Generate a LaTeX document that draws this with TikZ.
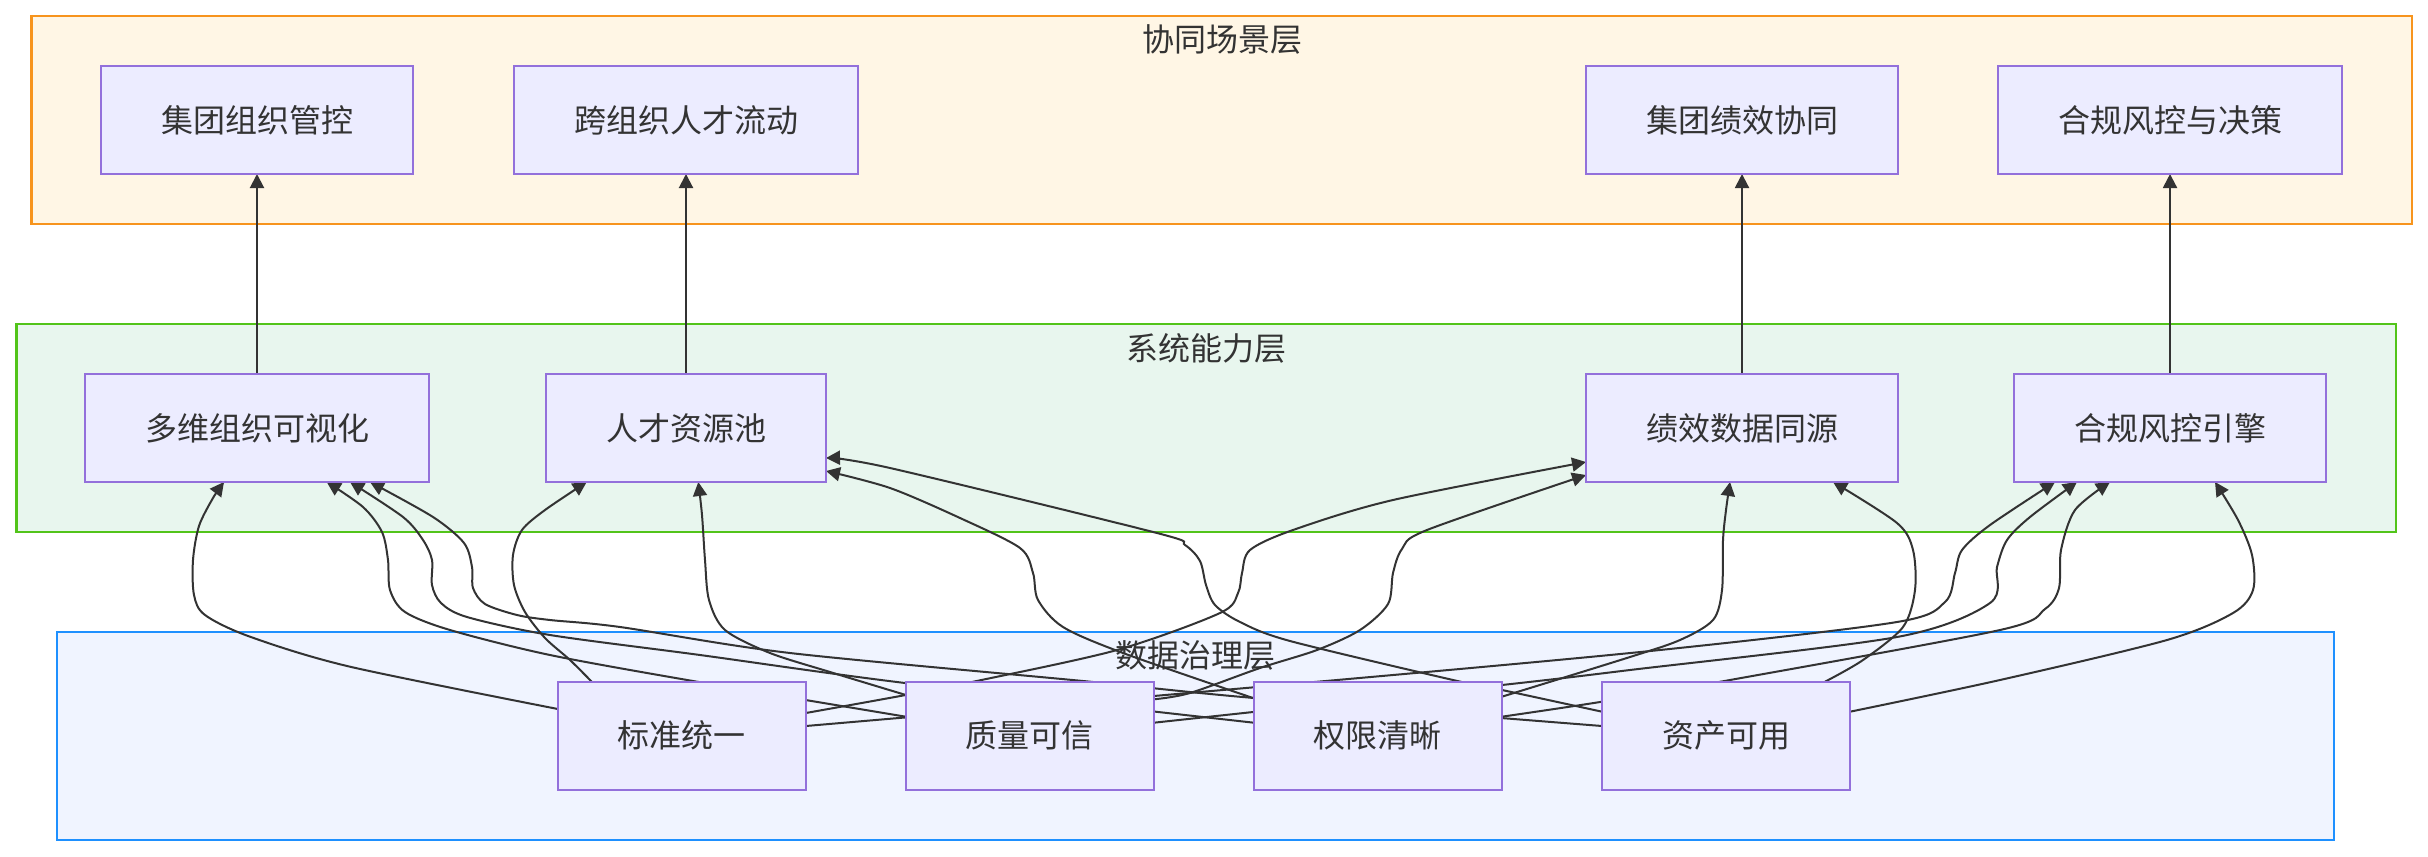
\documentclass[tikz,border=0pt]{standalone}
\usepackage{fontspec}
\newfontfamily\cjk{Noto Sans CJK SC}
\usetikzlibrary{arrows.meta,calc}
\pgfdeclarelayer{clusterlayer}
\pgfdeclarelayer{edgelayer}
\pgfsetlayers{clusterlayer,edgelayer,main}
\definecolor{txt}{HTML}{333333}
\definecolor{nodefill}{HTML}{ECECFF}
\definecolor{nodeline}{HTML}{9370DB}
\definecolor{orfill}{HTML}{FFF6E5}
\definecolor{orline}{HTML}{F7941D}
\definecolor{grfill}{HTML}{E8F6EE}
\definecolor{grline}{HTML}{52C41A}
\definecolor{blfill}{HTML}{F0F4FF}
\definecolor{blline}{HTML}{1E90FF}
\definecolor{edgecol}{HTML}{333333}
\tikzset{
  box/.style={draw=nodeline, fill=nodefill, line width=1pt, minimum height=54pt,
    inner xsep=30pt, inner ysep=0pt, outer sep=0pt,
    font=\cjk\fontsize{16pt}{19pt}\selectfont, text=txt},
  cluster/.style={line width=1.1pt, inner sep=0pt, outer sep=0pt, minimum height=104pt},
  ctitle/.style={font=\cjk\fontsize{16pt}{19pt}\selectfont, text=txt, inner sep=0pt},
  edge/.style={draw=edgecol, line width=1pt, -{Triangle[length=7pt,width=7pt]}},
}
\begin{document}
\begin{tikzpicture}[x=0.5pt,y=-0.5pt]
\useasboundingbox (0,0) rectangle (2428,856);

\begin{pgfonlayer}{clusterlayer}
  \node[cluster, draw=orline, fill=orfill, minimum width=1190.25pt] (L1) at (1221.75,120) {};
  \node[ctitle] (L1t) at (1222,39) {协同场景层};
  \node[cluster, draw=grline, fill=grfill, minimum width=1189.75pt] (L2) at (1206.25,428) {};
  \node[ctitle] (L2t) at (1206,348) {系统能力层};
  \node[cluster, draw=blline, fill=blfill, minimum width=1138.5pt] (L3) at (1195.5,736) {};
  \node[ctitle] (L3t) at (1195.5,655) {数据治理层};
\end{pgfonlayer}

% top layer
\node[box] (T1) at (257,120) {集团组织管控};
\node[box] (T2) at (686,120) {跨组织人才流动};
\node[box] (T3) at (1742,120) {集团绩效协同};
\node[box] (T4) at (2170,120) {合规风控与决策};
% middle layer
\node[box] (V1) at (257,428) {多维组织可视化};
\node[box] (V2) at (686,428) {人才资源池};
\node[box] (V3) at (1742,428) {绩效数据同源};
\node[box] (V4) at (2170,428) {合规风控引擎};
% bottom layer
\node[box] (A) at (681.85,735.7) {标准统一};
\node[box] (B) at (1029.85,735.7) {质量可信};
\node[box] (C) at (1377.85,735.7) {权限清晰};
\node[box] (D) at (1726,735.7) {资产可用};

% edge end points
\coordinate (e1s) at ($(A.west)+(0,-26.7)$);   \coordinate (e1e) at ($(V1.south)+(-33,0)$);
\coordinate (e2s) at ($(B.west)+(0,-19)$);     \coordinate (e2e) at ($(V1.south)+(69.7,0)$);
\coordinate (e3s) at ($(C.west)+(0,-13)$);     \coordinate (e3e) at ($(V1.south)+(93,0)$);
\coordinate (e4s) at ($(D.west)+(0,-9.7)$);    \coordinate (e4e) at ($(V1.south)+(113,0)$);
\coordinate (e5s) at ($(A.north)+(-90.15,0)$); \coordinate (e5e) at ($(V2.south)+(-99.3,0)$);
\coordinate (e6s) at ($(B.west)+(0,-40.7)$);   \coordinate (e6e) at ($(V2.south)+(12.3,0)$);
\coordinate (e7s) at ($(C.west)+(0,-37.4)$);   \coordinate (e7e) at ($(V2.east)+(0,43)$);
\coordinate (e8s) at ($(D.west)+(0,-24)$);     \coordinate (e8e) at ($(V2.east)+(0,30)$);
\coordinate (e9s) at ($(A.east)+(0,-22.7)$);   \coordinate (e9e) at ($(V3.west)+(0,34)$);
\coordinate (e10s) at ($(B.east)+(0,-36.4)$);  \coordinate (e10e) at ($(V3.west)+(0,47)$);
\coordinate (e11s) at ($(C.east)+(0,-39)$);    \coordinate (e11e) at ($(V3.south)+(-12,0)$);
\coordinate (e12s) at ($(D.north)+(99,0)$);    \coordinate (e12e) at ($(V3.south)+(91,0)$);
\coordinate (e13s) at ($(A.east)+(0,-9.7)$);   \coordinate (e13e) at ($(V4.south)+(-115,0)$);
\coordinate (e14s) at ($(B.east)+(0,-13)$);    \coordinate (e14e) at ($(V4.south)+(-93,0)$);
\coordinate (e15s) at ($(C.east)+(0,-19)$);    \coordinate (e15e) at ($(V4.south)+(-60,0)$);
\coordinate (e16s) at ($(D.east)+(0,-24)$);    \coordinate (e16e) at ($(V4.south)+(45,0)$);

\begin{pgfonlayer}{edgelayer}
  % middle -> top
  \draw[edge] (V1.north) -- (V1.north |- T1.south);
  \draw[edge] (V2.north) -- (V2.north |- T2.south);
  \draw[edge] (V3.north) -- (V3.north |- T3.south);
  \draw[edge] (V4.north) -- (V4.north |- T4.south);
  % bottom -> middle
  \draw[edge] plot[smooth, tension=0.5] coordinates {(e1s) (350,666.7) (250,636.7) (205,615) (194,595) (193,560) (199,526) (213,498) (e1e)};
  \draw[edge] plot[smooth, tension=0.5] coordinates {(e2s) (697,681.7) (550,655) (450,630) (405,612) (390,590) (388,560) (382,532) (363,507) (e2e)};
  \draw[edge] plot[smooth, tension=0.5] coordinates {(e3s) (905,683) (700,655) (550,635) (467,617) (441,603) (432,585) (432,560) (423,540) (403,517) (e3e)};
  \draw[edge] plot[smooth, tension=0.5] coordinates {(e4s) (1254,698) (1083,681) (790,653) (620,627) (550,620) (517,615) (485,604) (473,588) (472,567) (464,543) (433,517) (e4e)};
  \draw[edge] plot[smooth, tension=0.5] coordinates {(e5s) (570,660) (545,638) (525,612) (514,585) (513,555) (522,530) (545,510) (e5e)};
  \draw[edge] plot[smooth, tension=0.5] coordinates {(e6s) (830,672) (770,653) (725,630) (709,600) (705,560) (702,515) (e6e)};
  \draw[edge] plot[smooth, tension=0.5] coordinates {(e7s) (1123,653) (1063,627) (1038,600) (1033,573) (1020,548) (960,518) (890,488) (e7e)};
  \draw[edge] plot[smooth, tension=0.5] coordinates {(e8s) (1502,690) (1453,680) (1290,641) (1240,622) (1215,605) (1206,585) (1200,561) (1185,545) (1157,533) (890,468) (e8e)};
  \draw[edge] plot[smooth, tension=0.5] coordinates {(e9s) (905.7,695) (976.7,681) (1117,650) (1220,613) (1238,593) (1242,573) (1250,550) (1293,530) (1393,500) (e9e)};
  \draw[edge] plot[smooth, tension=0.5] coordinates {(e10s) (1190,693) (1260,668) (1317,650) (1360,630) (1388,604) (1393,573) (1402,549) (1427,530) (e10e)};
  \draw[edge] plot[smooth, tension=0.5] coordinates {(e11s) (1630,657) (1680,640) (1713,620) (1722,590) (1723,540) (1726,510) (e11e)};
  \draw[edge] plot[smooth, tension=0.5] coordinates {(e12s) (1863,660) (1903,627) (1915,590) (1913,550) (1897,523) (e12e)};
  \draw[edge] plot[smooth, tension=0.5] coordinates {(e13s) (1337,680) (1660,650) (1897,622) (1945,602) (1955,573) (1962,550) (1990,525) (e13e)};
  \draw[edge] plot[smooth, tension=0.5] coordinates {(e14s) (1502,685) (1630,670) (1897,637) (1990,603) (1997,567) (2007,540) (2030,517) (e14e)};
  \draw[edge] plot[smooth, tension=0.5] coordinates {(e15s) (1602,701.7) (1730,680) (2000,630) (2045,609) (2059,588) (2061,550) (2075,510) (e15e)};
  \draw[edge] plot[smooth, tension=0.5] coordinates {(e16s) (2000,680) (2167,640) (2233,613) (2253,590) (2252,555) (2238,520) (e16e)};
\end{pgfonlayer}
\end{tikzpicture}
\end{document}
